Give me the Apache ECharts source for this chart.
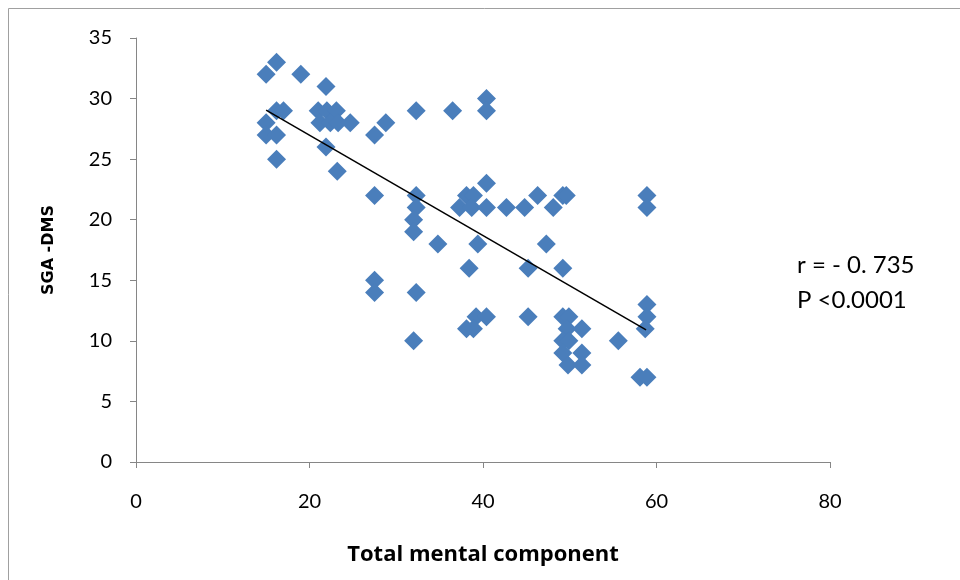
<!DOCTYPE html>
<html>
<head>
<meta charset="utf-8">
<script src="https://cdn.jsdelivr.net/npm/echarts@6/dist/echarts.min.js"></script>
<style>
  html, body { margin: 0; padding: 0; background: #fff; }
  #main { width: 960px; height: 580px; }
</style>
</head>
<body>
<div id="main"></div>
<script>
// 数据：读自原图
const mentalScores = [
    15, 16.2, 19, 21.9, 16.2, 17, 15, 15, 16.2, 16.2,
    21, 22, 23.1, 21.2, 22.4, 23.3, 24.7, 21.9, 23.2, 27.5,
    28.8, 27.5, 32.3, 36.5, 40.4, 40.4, 32.3, 32.3, 32, 32,
    34.8, 39.4, 38.1, 38.9, 40.4, 37.3, 38.7, 40.4, 42.7, 44.8,
    46.3, 48.1, 49.2, 49.6, 47.3, 27.5, 27.5, 32.3, 32, 38.4,
    45.2, 49.2, 39.2, 40.4, 38.1, 38.9, 45.2, 49.2, 49.9, 49.7,
    51.4, 49.2, 49.9, 49.2, 51.4, 49.8, 51.4, 55.6, 58.9, 58.9,
    58.7, 58.1, 58.9, 58.9, 58.9
];
const sgaScores = [
    32, 33, 32, 31, 29, 29, 28, 27, 27, 25,
    29, 29, 29, 28, 28, 28, 28, 26, 24, 27,
    28, 22, 29, 29, 30, 29, 22, 21, 20, 19,
    18, 18, 22, 22, 23, 21, 21, 21, 21, 21,
    22, 21, 22, 22, 18, 15, 14, 14, 10, 16,
    16, 16, 12, 12, 11, 11, 12, 12, 12, 11,
    11, 10, 10, 9, 9, 8, 8, 10, 13, 12,
    11, 7, 7, 22, 21
];
// 趋势线端点
const trendX = [15, 58.8];
const trendY = [29.05, 10.9];

const xTicks = [0, 20, 40, 60, 80];
const yTicks = [0, 5, 10, 15, 20, 25, 30, 35];

const points = mentalScores.map((x, i) => [x, sgaScores[i]]);
const trendLine = trendX.map((x, i) => [x, trendY[i]]);

const labelFont = "'Lato', sans-serif";
const axisColor = '#868686';

const chart = echarts.init(document.getElementById('main'));

const option = {
    animation: false,
    grid: {left: 136, right: 130, top: 38, bottom: 118},
    xAxis: {
        type: 'value',
        min: xTicks[0], max: xTicks[xTicks.length - 1], interval: 20,
        name: 'Total mental component',
        nameLocation: 'middle',
        nameGap: 82,
        nameTextStyle: {fontFamily: "'Open Sans', sans-serif", fontWeight: 'bold', fontSize: 22, color: '#000'},
        axisLine: {onZero: false, lineStyle: {color: axisColor, width: 1}},
        axisTick: {show: true, length: 6, lineStyle: {color: axisColor}},
        axisLabel: {margin: 30, fontFamily: labelFont, fontSize: 20, color: '#000'},
        splitLine: {show: false}
    },
    yAxis: {
        type: 'value',
        min: yTicks[0], max: yTicks[yTicks.length - 1], interval: 5,
        name: 'SGA -DMS',
        nameLocation: 'middle',
        nameGap: 79,
        nameTextStyle: {fontFamily: "'DejaVu Sans', sans-serif", fontWeight: 'bold', fontSize: 16, color: '#000'},
        axisLine: {show: true, lineStyle: {color: axisColor, width: 1}},
        axisTick: {show: true, length: 6, lineStyle: {color: axisColor}},
        axisLabel: {margin: 24, fontFamily: labelFont, fontSize: 20, color: '#000'},
        splitLine: {show: false}
    },
    series: [{
        type: 'scatter',
        symbol: 'diamond',
        symbolSize: 19,
        itemStyle: {color: '#4a7ebb', opacity: 1},
        data: points,
        z: 2
    }, {
        type: 'line',
        symbol: 'none',
        lineStyle: {color: '#000', width: 1.5},
        data: trendLine,
        z: 3
    }],
    graphic: [{
        type: 'rect',
        shape: {x: 8.5, y: 8.5, width: 1000, height: 1000},
        style: {fill: 'none', stroke: '#a0a0a0', lineWidth: 1},
        silent: true
    }, {
        type: 'text',
        left: 797, top: 253,
        style: {text: 'r = - 0. 735', font: "24px " + labelFont, fill: '#000'}
    }, {
        type: 'text',
        left: 797, top: 288,
        style: {text: 'P <0.0001', font: "24px " + labelFont, fill: '#000'}
    }]
};

chart.setOption(option);
</script>
</body>
</html>
